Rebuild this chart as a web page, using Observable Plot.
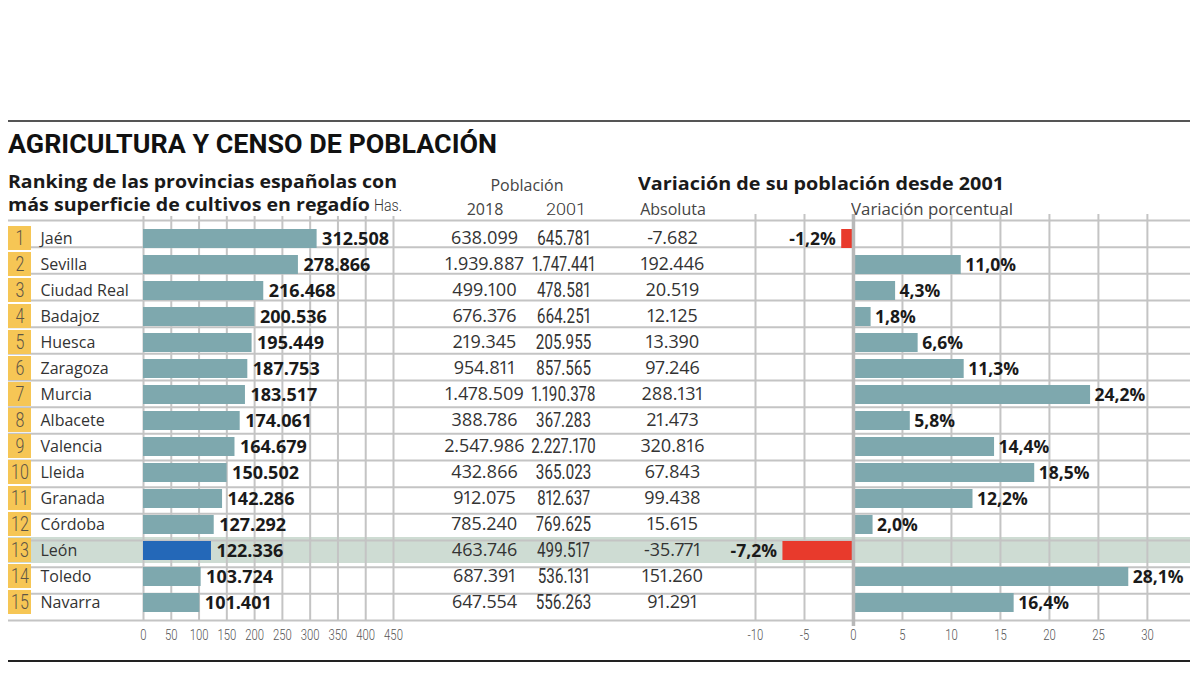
<!DOCTYPE html>
<html><head><meta charset="utf-8">
<script src="https://cdn.jsdelivr.net/npm/d3@7"></script>
<script src="https://cdn.jsdelivr.net/npm/@observablehq/plot@0.6"></script>
<style>
html,body{margin:0;padding:0;background:#fff;}
#chart{position:relative;width:1200px;height:675px;overflow:hidden;background:#fff;font-family:"Open Sans",sans-serif;}
#chart > svg{position:absolute;left:0;top:0;}
.t{position:absolute;white-space:nowrap;line-height:1;transform-origin:0 0;}
.rule{position:absolute;left:8px;width:1182px;}
</style></head><body>
<div id="chart"></div>
<script>
// ---------- DATA ----------
const ranks = [1, 2, 3, 4, 5, 6, 7, 8, 9, 10, 11, 12, 13, 14, 15];
const provincias = ["Jaén", "Sevilla", "Ciudad Real", "Badajoz", "Huesca", "Zaragoza", "Murcia", "Albacete", "Valencia", "Lleida", "Granada", "Córdoba", "León", "Toledo", "Navarra"];
const hectareas = [312508, 278866, 216468, 200536, 195449, 187753, 183517, 174061, 164679, 150502, 142286, 127292, 122336, 103724, 101401];
const poblacion2018 = [638099, 1939887, 499100, 676376, 219345, 954811, 1478509, 388786, 2547986, 432866, 912075, 785240, 463746, 687391, 647554];
const poblacion2001 = [645781, 1747441, 478581, 664251, 205955, 857565, 1190378, 367283, 2227170, 365023, 812637, 769625, 499517, 536131, 556263];
const variacionAbs = [-7682, 192446, 20519, 12125, 13390, 97246, 288131, 21473, 320816, 67843, 99438, 15615, -35771, 151260, 91291];
const variacionPct = [-1.2, 11.0, 4.3, 1.8, 6.6, 11.3, 24.2, 5.8, 14.4, 18.5, 12.2, 2.0, -7.2, 28.1, 16.4];
const destacada = "León";
const ticksHas = [0, 50, 100, 150, 200, 250, 300, 350, 400, 450];
const ticksPct = [-10, -5, 0, 5, 10, 15, 20, 25, 30];

// ---------- STYLE ----------
const SANS = '"Open Sans", sans-serif';
const COND = 'Roboto, sans-serif'; // horizontally condensed after rendering
const TEAL = "#7ea8ae", BLUE = "#2468b8", RED = "#e83a2c", HIGHLIGHT = "#cedcd3", YELLOW = "#f6c655", GRID = "#c4c4c4";
const W = 1200, H = 675, TOP = 220, BOTTOM = 55; // rows from y=220 to y=620

const loc = d3.formatLocale({decimal: ",", thousands: ".", grouping: [3], currency: ["", "€"], minus: "-"});
const fmtInt = loc.format(",d");
const fmtPct = v => loc.format(".1f")(v) + "%";

const rows = provincias.map((p, i) => ({
  rank: ranks[i], provincia: p, ha: hectareas[i] / 1000,
  p2018: poblacion2018[i], p2001: poblacion2001[i],
  abs: variacionAbs[i], pct: variacionPct[i], hl: p === destacada
}));

const chart = document.getElementById("chart");
const bandY = (pi = 0, po = 0) => ({type: "band", domain: provincias, axis: null, paddingInner: pi, paddingOuter: po});
const base = (opts, style = {}) => Plot.plot({
  width: W, height: H, marginTop: TOP, marginBottom: BOTTOM,
  style: {background: "transparent", overflow: "visible", fontFamily: COND, fontSize: "14.5px", color: "#555", ...style},
  ...opts
});
function add(svg) { chart.appendChild(svg); return svg; }
function condense(svg, f, selector = "text") {
  svg.querySelectorAll(selector).forEach(t => {
    const tr = t.getAttribute("transform");
    if (tr) t.setAttribute("transform", tr + ` scale(${f},1)`);
  });
}

// background highlight row (full width)
add(base({
  marginLeft: 8, marginRight: W - 1190,
  x: {axis: null},
  y: bandY(),
  marks: [Plot.cell(rows.filter(d => d.hl), {y: "provincia", fill: HIGHLIGHT})]
}));

// row separators
add(base({
  marginLeft: 8, marginRight: W - 1190,
  x: {axis: null},
  y: {domain: [0, provincias.length], axis: null},
  marks: [Plot.ruleY(d3.range(provincias.length + 1), {stroke: GRID, strokeWidth: 2})]
}));

// rank cells
condense(add(base({
  marginLeft: 8, marginRight: W - 31,
  x: {axis: null},
  y: bandY(),
  marks: [
    Plot.cell(rows, {y: "provincia", fill: YELLOW, insetTop: 1, insetBottom: 1}),
    Plot.text(rows, {y: "provincia", text: d => String(d.rank), frameAnchor: "middle", fontFamily: COND, fontWeight: 300, fontSize: 20, fill: "#5e5546"})
  ]
})), 0.8);

// province names
add(base({
  marginLeft: 40, marginRight: W - 140,
  y: bandY(),
  marks: [Plot.text(rows, {y: "provincia", text: "provincia", frameAnchor: "left", textAnchor: "start", fontFamily: SANS, fontWeight: 400, fontSize: 16, fill: "#333"})]
}));

// left bar chart: hectáreas (miles)
condense(add(base({
  marginLeft: 143, marginRight: W - 393,
  x: {domain: [0, 450], ticks: ticksHas, tickSize: 0, tickPadding: 9, tickFormat: fmtInt, label: null},
  y: bandY(0.27, 0.135),
  marks: [
    Plot.ruleX(ticksHas, {stroke: GRID, strokeWidth: 2, insetTop: -4}),
    Plot.barX(rows, {y: "provincia", x: "ha", fill: d => d.hl ? BLUE : TEAL}),
    Plot.text(rows, {y: "provincia", x: "ha", text: d => fmtInt(d.ha * 1000), dx: 5, textAnchor: "start", fontFamily: SANS, fontWeight: 700, fontSize: 18, fill: "#1a1a1a"})
  ]
}, {fontWeight: 300})), 0.78, 'g[aria-label="x-axis tick label"] text');

// middle columns
function column(center, textFn, opts, f = 1) {
  const svg = add(base({
    marginLeft: center - 50, marginRight: W - center - 50,
    y: bandY(),
    marks: [Plot.text(rows, {y: "provincia", text: textFn, frameAnchor: "middle", fontVariant: "proportional-nums", ...opts})]
  }));
  if (f !== 1) condense(svg, f);
}
column(484, d => fmtInt(d.p2018), {fontFamily: SANS, fontSize: 18, fill: "#333", fontWeight: d => d.hl ? 700 : 400});
column(563, d => fmtInt(d.p2001), {fontFamily: COND, fontSize: 19.5, fill: "#333", fontWeight: 400}, 0.78);
column(672, d => fmtInt(d.abs), {fontFamily: SANS, fontSize: 18, fill: "#333", fontWeight: d => d.hl ? 700 : 400});

// right bar chart: variación porcentual
condense(add(base({
  marginLeft: 755, marginRight: W - 1190,
  x: {domain: [-10, 34.4], ticks: ticksPct, tickSize: 0, tickPadding: 9, tickFormat: fmtInt, label: null},
  y: bandY(0.27, 0.135),
  marks: [
    Plot.ruleX(ticksPct.filter(t => t !== 0), {stroke: GRID, strokeWidth: 2, insetTop: -6}),
    Plot.barX(rows, {y: "provincia", x: "pct", fill: d => d.pct < 0 ? RED : TEAL}),
    Plot.ruleX([0], {stroke: "#b8b8b8", strokeWidth: 3.5, insetTop: -6, insetBottom: -6}),
    Plot.text(rows.filter(d => d.pct >= 0), {y: "provincia", x: "pct", text: d => fmtPct(d.pct), dx: 4, textAnchor: "start", fontFamily: SANS, fontWeight: 700, fontSize: 17.5, fill: "#1a1a1a"}),
    Plot.text(rows.filter(d => d.pct < 0), {y: "provincia", x: "pct", text: d => fmtPct(d.pct), dx: -6, textAnchor: "end", fontFamily: SANS, fontWeight: 700, fontSize: 17.5, fill: "#1a1a1a"})
  ]
}, {fontWeight: 300})), 0.78, 'g[aria-label="x-axis tick label"] text');

// ---------- TEXTS (HTML) ----------
function place(text, {x, baseline, anchor = "start", font = SANS, size = 16, weight = 400, color = "#333", width = null}) {
  const d = document.createElement("div");
  d.className = "t";
  d.style.cssText = `left:0;top:0;font-family:${font};font-size:${size}px;font-weight:${weight};color:${color};`;
  d.appendChild(document.createTextNode(text));
  const m = document.createElement("span");
  m.style.cssText = "display:inline-block;width:0;height:0;vertical-align:baseline;";
  d.appendChild(m);
  chart.appendChild(d);
  const b = m.offsetTop;
  let w = d.getBoundingClientRect().width;
  if (width) { d.style.transform = `scaleX(${width / w})`; w = width; }
  const left = anchor === "middle" ? x - w / 2 : anchor === "end" ? x - w : x;
  d.style.left = left + "px";
  d.style.top = (baseline - b) + "px";
}
const r1 = document.createElement("div"); r1.className = "rule"; r1.style.cssText += "top:120px;height:2px;background:#555;"; chart.appendChild(r1);
const r2 = document.createElement("div"); r2.className = "rule"; r2.style.cssText += "top:660px;height:2px;background:#222;"; chart.appendChild(r2);

place("AGRICULTURA Y CENSO DE POBLACIÓN", {x: 8, baseline: 152.5, font: "Roboto, sans-serif", size: 25.5, weight: 700, color: "#111", width: 489});
place("Ranking de las provincias españolas con", {x: 8, baseline: 188, size: 18.5, weight: 700, color: "#1a1a1a", width: 389});
place("más superficie de cultivos en regadío", {x: 8, baseline: 211, size: 18.5, weight: 700, color: "#1a1a1a", width: 362});
place("Has.", {x: 374, baseline: 211, font: COND, size: 16, weight: 300, color: "#333", width: 28});
place("Población", {x: 527, baseline: 191, anchor: "middle", size: 16, color: "#444"});
place("2018", {x: 485, baseline: 215, anchor: "middle", size: 16, color: "#444"});
place("2001", {x: 566, baseline: 215, anchor: "middle", font: COND, size: 17, weight: 300, color: "#333", width: 40});
place("Absoluta", {x: 673, baseline: 215, anchor: "middle", size: 16, color: "#444"});
place("Variación de su población desde 2001", {x: 638, baseline: 190, size: 18.5, weight: 700, color: "#1a1a1a", width: 366});
place("Variación porcentual", {x: 851, baseline: 215, size: 16, color: "#444", width: 162});
</script>
</body></html>
